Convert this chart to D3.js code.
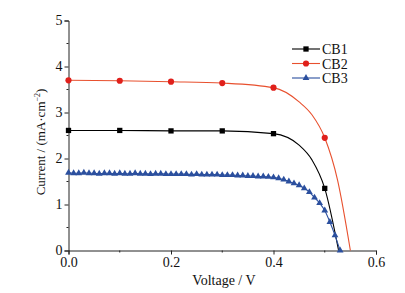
<!DOCTYPE html>
<html>
<head>
<meta charset="utf-8">
<script src="https://cdn.jsdelivr.net/npm/d3@7"></script>
<style>
body { margin: 0; background: #fff; }
text { font-family: "Liberation Serif", "Times New Roman", serif; }
</style>
</head>
<body>
<svg width="405" height="293"></svg>
<script>
// values
const seriesNames = ['CB1', 'CB2', 'CB3'];
const markerVoltages = [0, 0.1, 0.2, 0.3, 0.4, 0.5];

const cb1V = [0, 0.1, 0.2, 0.3, 0.4, 0.45, 0.475, 0.5, 0.527];
const cb1I = [2.61, 2.61, 2.60, 2.60, 2.54, 2.29, 1.97, 1.35, 0];

const cb2V = [0, 0.1, 0.2, 0.3, 0.4, 0.45, 0.475, 0.5, 0.525, 0.55];
const cb2I = [3.70, 3.69, 3.67, 3.64, 3.54, 3.23, 2.95, 2.45, 1.53, 0];

const cb3V = d3.range(0, 54).map(i => i / 100);
const cb3I = [1.69, 1.68, 1.68, 1.69, 1.68, 1.68, 1.67, 1.68, 1.68, 1.67,
              1.68, 1.67, 1.67, 1.68, 1.67, 1.67, 1.66, 1.67, 1.67, 1.66,
              1.66, 1.66, 1.66, 1.66, 1.65, 1.66, 1.65, 1.65, 1.65, 1.65,
              1.64, 1.64, 1.64, 1.63, 1.63, 1.62, 1.62, 1.61, 1.61, 1.60,
              1.59, 1.57, 1.54, 1.50, 1.46, 1.42, 1.35, 1.27, 1.15, 1.03,
              0.87, 0.62, 0.33, 0];

const yTicks = [0, 1, 2, 3, 4, 5];
const xTicks = [0, 0.2, 0.4, 0.6];

const svg = d3.select('svg');
const x = d3.scaleLinear().domain([0, 0.6]).range([68.5, 376]);
const y = d3.scaleLinear().domain([0, 5]).range([250.5, 20.5]);

const series = [
    { name: 'CB1', v: cb1V, c: cb1I, line: '#000', fill: '#000', shape: d3.symbolSquare, size: 28, markers: markerVoltages },
    { name: 'CB2', v: cb2V, c: cb2I, line: '#e8502e', fill: '#e0201b', shape: d3.symbolCircle, size: 30, markers: markerVoltages },
    { name: 'CB3', v: cb3V, c: cb3I, line: '#2b4f9e', fill: '#2b4f9e', shape: d3.symbolTriangle, size: 20, markers: cb3V }
];

// axes
const xAxis = d3.axisBottom(x).tickValues(xTicks).tickFormat(d3.format('.1f')).tickSize(4).tickPadding(3);
const yAxis = d3.axisLeft(y).tickValues(yTicks).tickFormat(d3.format('d')).tickSize(4).tickPadding(2);

const xg = svg.append('g').attr('transform', 'translate(0,250.5)').call(xAxis);
const yg = svg.append('g').attr('transform', 'translate(68.5,0)').call(yAxis);
[xg, yg].forEach(g => {
    g.select('.domain').attr('stroke', '#222');
    g.selectAll('.tick line').attr('stroke', '#222');
    g.selectAll('.tick text').attr('font-size', 14).attr('fill', '#111');
});
yg.selectAll('.tick text').attr('dy', '0.25em');

// minor ticks
svg.append('g').selectAll('line')
    .data([0.1, 0.3, 0.5]).join('line')
    .attr('x1', d => x(d)).attr('x2', d => x(d))
    .attr('y1', 250.5).attr('y2', 252.5).attr('stroke', '#222');
svg.append('g').selectAll('line')
    .data([0.5, 1.5, 2.5, 3.5, 4.5]).join('line')
    .attr('y1', d => y(d)).attr('y2', d => y(d))
    .attr('x1', 68.5).attr('x2', 66.5).attr('stroke', '#222');

// axis labels
svg.append('text')
    .attr('x', 224).attr('y', 285)
    .attr('text-anchor', 'middle').attr('font-size', 14).attr('fill', '#111')
    .text('Voltage / V');

const yl = svg.append('text')
    .attr('transform', 'translate(45,142) rotate(-90)')
    .attr('text-anchor', 'middle').attr('font-size', 13).attr('fill', '#111');
yl.append('tspan').text('Current / (mA·cm');
yl.append('tspan').attr('dy', -5).attr('font-size', 8).text('−2');
yl.append('tspan').attr('dy', 5).text(')');

// curves
const line = d3.line()
    .x(d => x(d[0]))
    .y(d => y(d[1]))
    .curve(d3.curveMonotoneX);

series.forEach(s => {
    const pts = s.v.map((v, i) => [v, s.c[i]]);
    svg.append('path')
        .datum(pts)
        .attr('fill', 'none')
        .attr('stroke', s.line)
        .attr('stroke-width', 1.1)
        .attr('d', line);
    svg.append('g').selectAll('path')
        .data(pts.filter(p => s.markers.some(m => Math.abs(m - p[0]) < 1e-9)))
        .join('path')
        .attr('transform', d => `translate(${x(d[0])},${y(d[1])})`)
        .attr('d', d3.symbol().type(s.shape).size(s.size))
        .attr('fill', s.fill);
});

// legend
const legend = svg.append('g').attr('transform', 'translate(292,49)');
series.forEach((s, i) => {
    const row = legend.append('g').attr('transform', `translate(0,${i * 14.5})`);
    row.append('line').attr('x1', 0).attr('x2', 28).attr('y1', 0).attr('y2', 0)
        .attr('stroke', s.line).attr('stroke-width', 1.1);
    row.append('path').attr('transform', 'translate(14,0)')
        .attr('d', d3.symbol().type(s.shape).size(s.size)).attr('fill', s.fill);
    row.append('text').attr('x', 30).attr('y', 5)
        .attr('font-size', 14).attr('fill', '#111').text(s.name);
});
</script>
</body>
</html>
